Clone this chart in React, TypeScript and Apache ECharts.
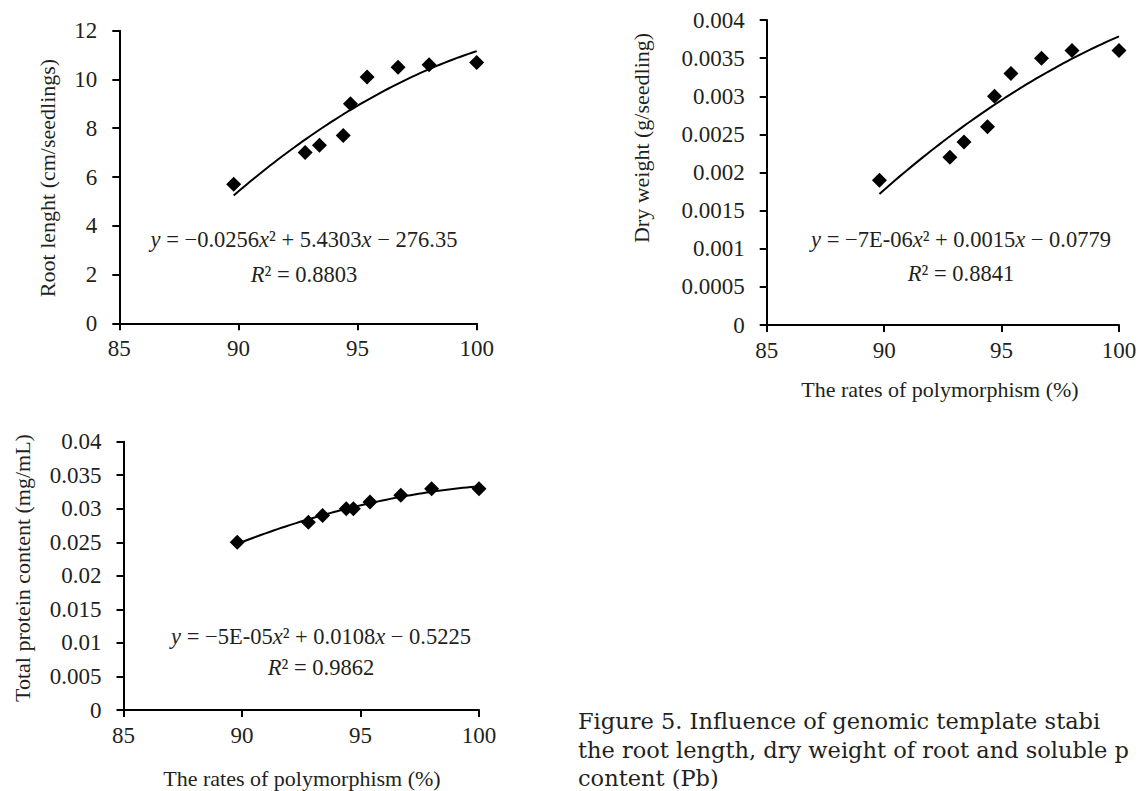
import React, { useEffect, useRef } from "react";
import * as echarts from "echarts";

// Data
const polymorphism = [89.8, 92.8, 93.4, 94.4, 94.7, 95.4, 96.7, 98.0, 100];
const rootLength = [5.7, 7.0, 7.3, 7.7, 9.0, 10.1, 10.5, 10.6, 10.7];
const dryWeight = [0.0019, 0.0022, 0.0024, 0.0026, 0.003, 0.0033, 0.0035, 0.0036, 0.0036];
const totalProtein = [0.025, 0.028, 0.029, 0.03, 0.03, 0.031, 0.032, 0.033, 0.033];

const xMin = 85;
const xMax = 100;
const xInterval = 5;

const rootAxis = { max: 12, interval: 2 };
const dryAxis = { max: 0.004, interval: 0.0005 };
const proteinAxis = { max: 0.04, interval: 0.005 };

const equations = [
  "{i|y} = −0.0256{i|x}² + 5.4303{i|x} − 276.35",
  "{i|y} = −7E-06{i|x}² + 0.0015{i|x} − 0.0779",
  "{i|y} = −5E-05{i|x}² + 0.0108{i|x} − 0.5225",
];
const rSquared = ["{i|R}² = 0.8803", "{i|R}² = 0.8841", "{i|R}² = 0.9862"];

const yTitles = ["Root lenght (cm/seedlings)", "Dry weight (g/seedling)", "Total protein content (mg/mL)"];
const xTitle = "The rates of polymorphism (%)";

// caption as visible in the (cropped) reference
const captionLines = [
  "Figure 5. Influence of genomic template stabi",
  "the root length, dry weight of root and soluble p",
  "content (Pb)",
];

// least-squares quadratic trendline (as the spreadsheet's polynomial trendline)
function quadFit(xs: number[], ys: number[]) {
  const n = xs.length;
  const m = xs.reduce((a, b) => a + b, 0) / n;
  const s = [0, 0, 0, 0, 0];
  const t = [0, 0, 0];
  for (let i = 0; i < n; i++) {
    const d = xs[i] - m;
    let p = 1;
    for (let k = 0; k < 5; k++) {
      s[k] += p;
      p *= d;
    }
    t[0] += ys[i];
    t[1] += ys[i] * d;
    t[2] += ys[i] * d * d;
  }
  const A = [
    [s[0], s[1], s[2], t[0]],
    [s[1], s[2], s[3], t[1]],
    [s[2], s[3], s[4], t[2]],
  ];
  for (let c = 0; c < 3; c++) {
    let piv = c;
    for (let r = c + 1; r < 3; r++) if (Math.abs(A[r][c]) > Math.abs(A[piv][c])) piv = r;
    [A[c], A[piv]] = [A[piv], A[c]];
    for (let r = 0; r < 3; r++) {
      if (r === c) continue;
      const f = A[r][c] / A[c][c];
      for (let k = c; k < 4; k++) A[r][k] -= f * A[c][k];
    }
  }
  const a = A[0][3] / A[0][0];
  const b = A[1][3] / A[1][1];
  const cc = A[2][3] / A[2][2];
  return (x: number) => a + b * (x - m) + cc * (x - m) * (x - m);
}

function trend(xs: number[], ys: number[]) {
  const f = quadFit(xs, ys);
  const lo = Math.min(...xs);
  const hi = Math.max(...xs);
  const steps = 60;
  const out: number[][] = [];
  for (let i = 0; i <= steps; i++) {
    const x = lo + ((hi - lo) * i) / steps;
    out.push([x, f(x)]);
  }
  return out;
}

const FONT = "'Liberation Serif', 'Times New Roman', serif";
const TXT = "#231f20";

export default function App() {
  const ref = useRef<HTMLDivElement>(null);

  useEffect(() => {
    document.body.style.margin = "0";
    if (!ref.current) return;
    const chart = echarts.init(ref.current, undefined, { renderer: "svg" });

    const grids = [
      { left: 119.3, top: 30.7, width: 357.4, height: 292.6 },
      { left: 766.7, top: 20, width: 352.3, height: 305 },
      { left: 123.5, top: 441.7, width: 355.5, height: 268.3 },
    ];
    const yCfg = [rootAxis, dryAxis, proteinAxis];
    const yVals = [rootLength, dryWeight, totalProtein];

    const xAxes = grids.map((_, i) => ({
      type: "value",
      gridIndex: i,
      min: xMin,
      max: xMax,
      interval: xInterval,
      axisLine: { show: true, onZero: false, lineStyle: { color: "#000", width: 2 } },
      axisTick: { show: true, inside: false, length: 7, lineStyle: { color: "#000", width: 2 } },
      axisLabel: { color: TXT, fontFamily: FONT, fontSize: 23, margin: 14 },
      splitLine: { show: false },
    }));
    const yAxes = grids.map((_, i) => ({
      type: "value",
      gridIndex: i,
      min: 0,
      max: yCfg[i].max,
      interval: yCfg[i].interval,
      axisLine: { show: true, onZero: false, lineStyle: { color: "#000", width: 2 } },
      axisTick: { show: true, inside: false, length: 7, lineStyle: { color: "#000", width: 2 } },
      axisLabel: { color: TXT, fontFamily: FONT, fontSize: 23, margin: 22 },
      splitLine: { show: false },
    }));

    const series: any[] = [];
    yVals.forEach((ys, i) => {
      series.push({
        type: "line",
        xAxisIndex: i,
        yAxisIndex: i,
        data: trend(polymorphism, ys),
        showSymbol: false,
        symbol: "none",
        lineStyle: { color: "#000", width: 2 },
        z: 2,
      });
      series.push({
        type: "scatter",
        xAxisIndex: i,
        yAxisIndex: i,
        data: polymorphism.map((x, k) => [x, ys[k]]),
        symbol: "diamond",
        symbolSize: 15,
        itemStyle: { color: "#000", opacity: 1 },
        z: 3,
      });
    });

    const eqPos = [
      [304, 239, 274],
      [961, 239, 273],
      [321, 636, 667],
    ];
    const rich = { i: { fontStyle: "italic", fontFamily: FONT, fontSize: 22.5, fill: TXT } };
    const graphic: any[] = [];
    eqPos.forEach((p, i) => {
      graphic.push({
        type: "text",
        x: p[0],
        y: p[1],
        style: { text: equations[i], rich, fontFamily: FONT, fontSize: 22.5, fill: TXT, align: "center", verticalAlign: "middle" },
      });
      graphic.push({
        type: "text",
        x: p[0],
        y: p[2],
        style: { text: rSquared[i], rich, fontFamily: FONT, fontSize: 22.5, fill: TXT, align: "center", verticalAlign: "middle" },
      });
    });
    const yTitlePos = [
      [47, 178],
      [641, 138],
      [22, 568],
    ];
    yTitlePos.forEach((p, i) => {
      graphic.push({
        type: "text",
        x: p[0],
        y: p[1],
        rotation: Math.PI / 2,
        style: { text: yTitles[i], fontFamily: FONT, fontSize: 22, fill: TXT, align: "center", verticalAlign: "middle" },
      });
    });
    [
      [940, 389],
      [302, 778],
    ].forEach((p) => {
      graphic.push({
        type: "text",
        x: p[0],
        y: p[1],
        style: { text: xTitle, fontFamily: FONT, fontSize: 22, fill: TXT, align: "center", verticalAlign: "middle" },
      });
    });
    captionLines.forEach((line, i) => {
      graphic.push({
        type: "text",
        x: 578,
        y: 721 + i * 28.5,
        style: { text: line, fontFamily: "'DejaVu Serif', serif", fontSize: 22.5, fill: TXT, align: "left", verticalAlign: "middle" },
      });
    });

    chart.setOption({
      animation: false,
      backgroundColor: "#fff",
      grid: grids,
      xAxis: xAxes,
      yAxis: yAxes,
      series,
      graphic,
    });

    return () => chart.dispose();
  }, []);

  return <div ref={ref} style={{ width: 1140, height: 791, overflow: "hidden" }} />;
}
